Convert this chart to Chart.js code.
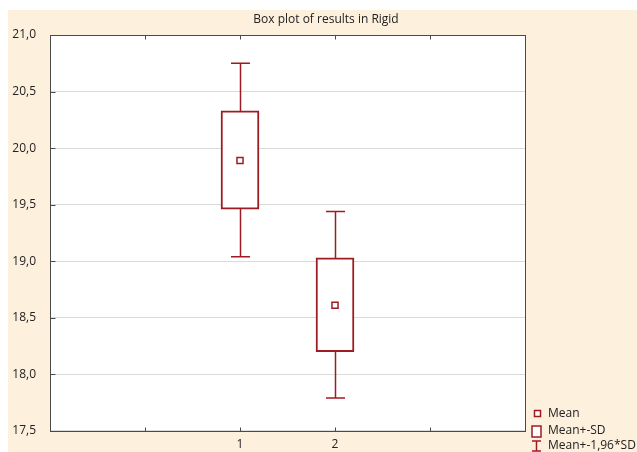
<!DOCTYPE html>
<html>
<head>
<meta charset="utf-8">
<script src="https://cdn.jsdelivr.net/npm/chart.js@4/dist/chart.umd.min.js"></script>
<style>
  html, body { margin: 0; padding: 0; background: #ffffff; }
  #wrap { position: relative; width: 637px; height: 452px; }
</style>
</head>
<body>
<div id="wrap"><canvas id="c" width="637" height="452"></canvas></div>
<script>
// Groups and their x positions
const categories = ['1', '2'];
const positions = [1, 2];
// Mean, Mean±SD box and Mean±1,96*SD whiskers per group
const means  = [19.89, 18.61];
const sdLow  = [19.46, 18.20];
const sdHigh = [20.33, 19.03];
const ciLow  = [19.04, 17.79];
const ciHigh = [20.75, 19.44];
// Axis ticks
const yTicks = [17.5, 18.0, 18.5, 19.0, 19.5, 20.0, 20.5, 21.0];
const xTickMarks = [0, 1, 2, 3];
const legendLabels = ['Mean', 'Mean+-SD', 'Mean+-1,96*SD'];
const titleText = 'Box plot of results in Rigid';

const RED = '#9e1b24';
const FRAME = '#4a4a4a';
const BEIGE = '#fdf0dd';
const TEXT = '#222222';
const FONT = '"Open Sans", "Noto Sans", sans-serif';

const backdrop = {
  id: 'backdrop',
  beforeDraw(chart) {
    const { ctx, chartArea: a, width, height } = chart;
    ctx.save();
    ctx.fillStyle = '#ffffff';
    ctx.fillRect(0, 0, width, height);
    ctx.fillStyle = BEIGE;
    ctx.fillRect(8, 10, width - 8, height - 10);
    ctx.fillStyle = '#ffffff';
    ctx.fillRect(a.left, a.top, a.right - a.left, a.bottom - a.top);
    ctx.restore();
  }
};

// Title centred over the whole panel
const heading = {
  id: 'heading',
  afterDraw(chart) {
    const { ctx } = chart;
    ctx.save();
    ctx.fillStyle = TEXT;
    ctx.font = '12px ' + FONT;
    ctx.textAlign = 'center';
    ctx.textBaseline = 'middle';
    ctx.fillText(titleText, 326, 20);
    ctx.restore();
  }
};

// Whisker lines with caps, drawn beneath the SD boxes
const whiskers = {
  id: 'whiskers',
  beforeDatasetsDraw(chart) {
    const { ctx, scales: { x, y } } = chart;
    ctx.save();
    ctx.strokeStyle = RED;
    ctx.lineWidth = 1.5;
    positions.forEach((p, i) => {
      const px = Math.round(x.getPixelForValue(p)) + 0.5;
      const top = y.getPixelForValue(ciHigh[i]);
      const bot = y.getPixelForValue(ciLow[i]);
      const half = 9.5;
      ctx.beginPath();
      ctx.moveTo(px, top); ctx.lineTo(px, bot);
      ctx.moveTo(px - half, top); ctx.lineTo(px + half, top);
      ctx.moveTo(px - half, bot); ctx.lineTo(px + half, bot);
      ctx.stroke();
    });
    ctx.restore();
  }
};

// Plot frame with inward tick marks
const frame = {
  id: 'frame',
  afterDraw(chart) {
    const { ctx, chartArea: a, scales: { x, y } } = chart;
    ctx.save();
    ctx.strokeStyle = FRAME;
    ctx.lineWidth = 1;
    const L = Math.round(a.left) + 0.5, R = Math.round(a.right) + 0.5;
    const T = Math.round(a.top) + 0.5, B = Math.round(a.bottom) + 0.5;
    ctx.strokeRect(L, T, R - L, B - T);
    ctx.beginPath();
    xTickMarks.forEach(v => {
      const px = Math.round(x.getPixelForValue(v)) + 0.5;
      ctx.moveTo(px, T); ctx.lineTo(px, T + 4);
      ctx.moveTo(px, B); ctx.lineTo(px, B - 4);
    });
    yTicks.forEach(v => {
      const py = Math.round(y.getPixelForValue(v)) + 0.5;
      ctx.moveTo(L, py); ctx.lineTo(L + 5, py);
    });
    ctx.stroke();
    ctx.restore();
  }
};

// Legend in the lower right corner
const sideLegend = {
  id: 'sideLegend',
  afterDraw(chart) {
    const { ctx } = chart;
    ctx.save();
    ctx.strokeStyle = RED;
    ctx.fillStyle = '#ffffff';
    ctx.lineWidth = 1.5;
    ctx.fillRect(534.5, 410.5, 6, 6);
    ctx.strokeRect(534.5, 410.5, 6, 6);
    ctx.fillRect(532, 426, 9, 11);
    ctx.strokeRect(532, 426, 9, 11);
    ctx.beginPath();
    ctx.moveTo(536.5, 441); ctx.lineTo(536.5, 451);
    ctx.moveTo(532, 441); ctx.lineTo(541, 441);
    ctx.moveTo(532, 451); ctx.lineTo(541, 451);
    ctx.stroke();
    ctx.fillStyle = TEXT;
    ctx.font = '12px ' + FONT;
    ctx.textBaseline = 'middle';
    ctx.textAlign = 'left';
    const ys = [413.5, 431, 446];
    legendLabels.forEach((t, i) => ctx.fillText(t, 548, ys[i]));
    ctx.restore();
  }
};

new Chart(document.getElementById('c'), {
  type: 'bar',
  data: {
    datasets: [
      {
        type: 'scatter',
        label: legendLabels[0],
        data: positions.map((p, i) => ({ x: p, y: means[i] })),
        pointStyle: 'rect',
        pointRadius: 4.3,
        pointBorderWidth: 1.5,
        borderColor: RED,
        backgroundColor: '#ffffff',
        order: 0
      },
      {
        type: 'bar',
        label: legendLabels[1],
        data: positions.map((p, i) => ({ x: p, y: [sdLow[i], sdHigh[i]] })),
        backgroundColor: '#ffffff',
        borderColor: RED,
        borderWidth: 2,
        borderSkipped: false,
        barThickness: 38,
        order: 1
      }
    ]
  },
  options: {
    responsive: false,
    animation: false,
    layout: { padding: { left: 0, right: 112, top: 35, bottom: 0 } },
    plugins: {
      legend: { display: false },
      tooltip: { enabled: false },
      title: { display: false }
    },
    scales: {
      x: {
        type: 'linear',
        min: -1,
        max: 4,
        offset: false,
        grid: { display: false, drawTicks: false },
        border: { display: false },
        afterBuildTicks: s => { s.ticks = positions.map(v => ({ value: v })); },
        ticks: {
          padding: 7,
          color: TEXT,
          font: { family: FONT, size: 12 },
          callback: v => categories[positions.indexOf(v)] ?? ''
        },
        afterFit: s => { s.height = 21; }
      },
      y: {
        min: 17.5,
        max: 21.0,
        grid: { color: '#dadada', lineWidth: 1, drawTicks: false },
        border: { display: false },
        afterBuildTicks: s => { s.ticks = yTicks.map(v => ({ value: v })); },
        ticks: {
          padding: 14,
          color: TEXT,
          font: { family: FONT, size: 12 },
          callback: v => Number(v).toFixed(1).replace('.', ',')
        },
        afterFit: s => { s.width = 50; }
      }
    }
  },
  plugins: [backdrop, whiskers, frame, sideLegend, heading]
});
</script>
</body>
</html>
